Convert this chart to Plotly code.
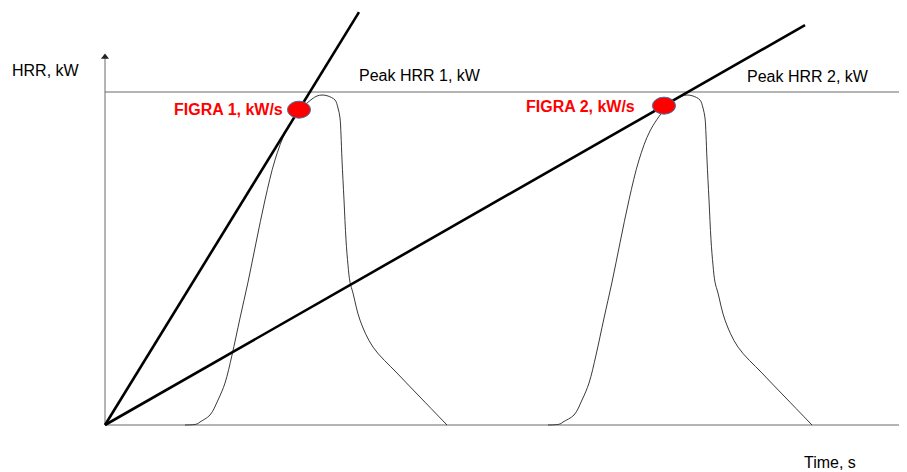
import plotly.graph_objects as go

# ---- data (time in s, HRR in kW) ----
peak_hrr = 100
axis_t_end = 802
axis_hrr_top = 110.5

curve1_t = [80, 92, 95, 105, 113, 120, 127, 135, 143, 151, 160, 170, 181, 195, 201, 207, 212,
            217, 223, 230, 233, 235, 236, 237, 239, 241, 243, 245, 248, 255, 268, 292, 315, 342]
curve1_hrr = [0, 0.3, 0.9, 3.0, 7.5, 12.6, 21.0, 32.1, 42.9, 54.7, 67.6, 79.6, 88.3, 94.6, 96.4, 97.9, 98.8,
              99.1, 98.8, 97.6, 95.2, 92.2, 87.1, 79.6, 67.6, 55.6, 48.0, 42.9, 39.6, 31.5, 23.4, 15.6, 8.4, 0]

curve2_t = [443, 455, 458, 469, 477, 484, 491, 499, 507, 515, 524, 534, 545, 559, 565, 571, 577,
            582, 588, 595, 598, 600, 601, 602, 604, 606, 608, 610, 613, 620, 633, 657, 680, 707]
curve2_hrr = [0, 0.3, 0.9, 3.0, 7.5, 12.6, 21.0, 32.1, 42.9, 54.7, 67.6, 79.6, 88.3, 94.6, 96.4, 97.9, 98.8,
              99.1, 98.8, 97.6, 95.2, 92.2, 87.1, 79.6, 67.6, 55.6, 48.0, 42.9, 39.6, 31.5, 23.4, 15.6, 8.4, 0]

figra1_t = [0, 254]
figra1_hrr = [0, 124.0]
figra2_t = [0, 700]
figra2_hrr = [0, 120.1]

figra_pts_t = [194, 559]
figra_pts_hrr = [94.7, 95.9]

labels = ["HRR, kW", "Peak HRR 1, kW", "Peak HRR 2, kW", "FIGRA 1, kW/s", "FIGRA 2, kW/s", "Time, s"]

FONT = "Liberation Sans, Arial, sans-serif"
AX_COLOR = "#6b6b6b"

fig = go.Figure()

# axes and peak line
fig.add_trace(go.Scatter(x=[0, 0], y=[0, axis_hrr_top], mode="lines",
                         line=dict(color=AX_COLOR, width=1), hoverinfo="skip"))
fig.add_trace(go.Scatter(x=[0, axis_t_end], y=[0, 0], mode="lines",
                         line=dict(color=AX_COLOR, width=1), hoverinfo="skip"))
fig.add_trace(go.Scatter(x=[0, axis_t_end], y=[peak_hrr, peak_hrr], mode="lines",
                         line=dict(color=AX_COLOR, width=1), hoverinfo="skip"))
fig.add_trace(go.Scatter(x=[0], y=[axis_hrr_top], mode="markers",
                         marker=dict(symbol="triangle-up", size=7, color="#222222"), hoverinfo="skip"))

# HRR curves
for t, h in [(curve1_t, curve1_hrr), (curve2_t, curve2_hrr)]:
    fig.add_trace(go.Scatter(x=t, y=h, mode="lines",
                             line=dict(color="#3a3a3a", width=1, shape="spline", smoothing=1.0),
                             hoverinfo="skip"))

# FIGRA lines
for t, h in [(figra1_t, figra1_hrr), (figra2_t, figra2_hrr)]:
    fig.add_trace(go.Scatter(x=t, y=h, mode="lines",
                             line=dict(color="black", width=2.6), hoverinfo="skip"))

# FIGRA points (ellipses)
for t, h in zip(figra_pts_t, figra_pts_hrr):
    fig.add_shape(type="circle", xref="x", yref="y", xsizemode="pixel", ysizemode="pixel",
                  xanchor=t, yanchor=h, x0=-11.5, x1=11.5, y0=-8.5, y1=8.5,
                  fillcolor="#ff0000", line=dict(color="#41719c", width=1))

# text
ann_pos = [(-95, 106.6, "left", "black", False),
           (252, 105.1, "left", "black", False),
           (640, 104.8, "left", "black", False),
           (180, 94.9, "right", "#ff0000", True),
           (532, 95.8, "right", "#ff0000", True),
           (697, -11.4, "left", "black", False)]
for text, (x, y, anc, col, bold) in zip(labels, ann_pos):
    fig.add_annotation(x=x, y=y, text=f"<b>{text}</b>" if bold else text, showarrow=False,
                       xanchor=anc, yanchor="middle",
                       font=dict(family=FONT, size=16, color=col))

# the page body has an 8px margin, so the figure is 899x464 and its ranges start 8px in
fig.update_layout(
    width=899, height=464, margin=dict(l=0, r=0, t=0, b=0),
    paper_bgcolor="white", plot_bgcolor="white", showlegend=False,
    xaxis=dict(range=[-97, 802], visible=False, fixedrange=True),
    yaxis=dict(range=[-14.114, 125.23], visible=False, fixedrange=True),
)

fig.write_html("out.html")
